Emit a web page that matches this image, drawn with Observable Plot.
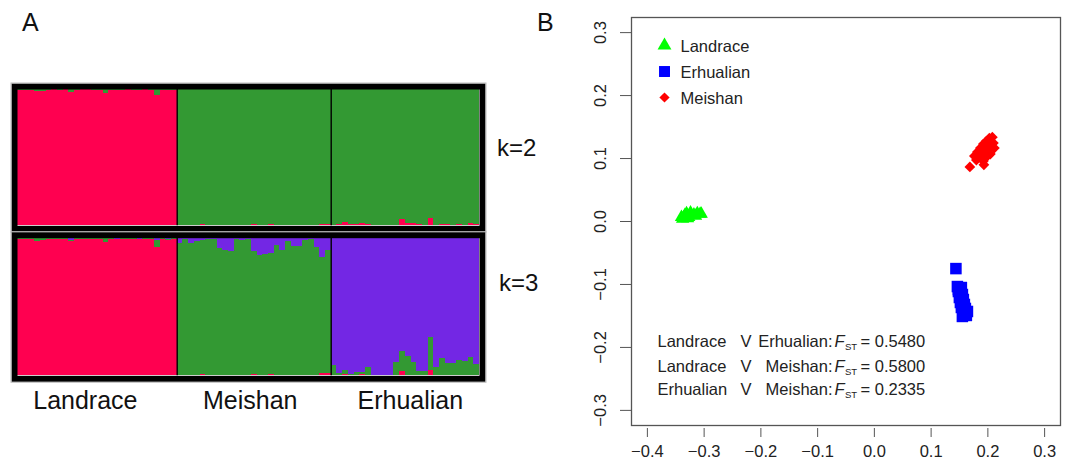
<!DOCTYPE html>
<html><head><meta charset="utf-8">
<script src="https://cdn.jsdelivr.net/npm/d3@7"></script>
<script src="https://cdn.jsdelivr.net/npm/@observablehq/plot@0.6"></script>
<style>
body{margin:0;background:#fff;}
#root{position:relative;width:1072px;height:466px;font-family:"Liberation Sans",Arial,sans-serif;overflow:hidden;background:#fff;}
.lbl{position:absolute;line-height:1;color:#111;white-space:nowrap;}
#root svg{position:absolute;}
</style></head><body><div id="root"></div>
<script>
// ---------- Panel A : admixture proportions ----------
const groups = ["Landrace", "Meishan", "Erhualian"];
const groupSizes = [28, 27, 26];
const clusterColors = ["#FF0050", "#339933", "#7327E4"]; // cluster 1 (red), 2 (green), 3 (purple)

// k = 2 (clusters: red, green)
const landraceK2Green = [0.008,0.006,0.007,0.015,0.014,0.004,0.003,0.004,0.003,0.02,0.004,0.003,0.003,0.004,0.005,0.032,0.004,0.009,0.004,0.003,0.005,0.004,0.003,0.006,0.046,0.004,0.011,0.004];
const meishanK2Red = [0.002,0.002,0.002,0.002,0.008,0.002,0.002,0.002,0.002,0.002,0.002,0.002,0.002,0.008,0.002,0.002,0.012,0.002,0.002,0.002,0.002,0.002,0.002,0.002,0.002,0.012,0.012];
const erhualianK2Red = [0.005,0.01,0.024,0.01,0.012,0.015,0.008,0.005,0.004,0.004,0.004,0.005,0.044,0.02,0.015,0.01,0.003,0.054,0.005,0.01,0.01,0.005,0.01,0.005,0.02,0.01];

// k = 3 (clusters: red, green, purple)
const landraceK3Green = [0.006,0.005,0.006,0.018,0.016,0.003,0.003,0.003,0.003,0.004,0.003,0.003,0.003,0.003,0.004,0.03,0.003,0.004,0.003,0.003,0.003,0.003,0.003,0.004,0.05,0.003,0.004,0.003];
const landraceK3Purple = [0.003,0.003,0.004,0.003,0.003,0.003,0.003,0.003,0.003,0.02,0.003,0.003,0.003,0.003,0.003,0.003,0.003,0.008,0.003,0.003,0.003,0.008,0.003,0.003,0.015,0.003,0.01,0.003];
const meishanK3Red = [0.002,0.002,0.002,0.002,0.01,0.002,0.002,0.002,0.002,0.002,0.002,0.002,0.002,0.01,0.002,0.002,0.012,0.002,0.002,0.002,0.002,0.002,0.002,0.002,0.002,0.015,0.015];
const meishanK3Purple = [0.037,0.007,0.042,0.025,0.017,0.012,0.012,0.078,0.086,0.096,0.01,0.017,0.01,0.098,0.127,0.115,0.11,0.054,0.09,0.022,0.061,0.059,0.017,0.012,0.066,0.14,0.09];
const erhualianK3Red = [0.003,0.005,0.012,0.003,0.005,0.006,0.003,0.002,0.002,0.002,0.002,0.003,0.03,0.005,0.004,0.003,0.003,0.04,0.004,0.003,0.003,0.003,0.004,0.003,0.005,0.004];
const erhualianK3Green = [0.073,0.015,0.028,0.009,0.017,0.021,0.058,0.003,0.001,0.001,0.001,0.095,0.144,0.132,0.096,0.031,0.027,0.237,0.055,0.12,0.09,0.09,0.106,0.102,0.125,0.077];

// ---------- Panel B : PCA ----------
const landraceX = [-0.340,-0.331,-0.324,-0.334,-0.318,-0.312,-0.307,-0.327,-0.315,-0.336,-0.338,-0.329,-0.305];
const landraceY = [0.007,0.013,0.014,0.010,0.011,0.013,0.012,0.007,0.009,0.006,0.004,0.005,0.012];
const erhualianX = [0.1437,0.1463,0.1533,0.1481,0.1551,0.1498,0.1568,0.1516,0.1586,0.1533,0.1604,0.1640,0.1568,0.1621,0.1551,0.1481];
const erhualianY = [-0.0748,-0.1033,-0.1049,-0.1112,-0.1160,-0.1207,-0.1239,-0.1286,-0.1318,-0.1365,-0.1381,-0.1429,-0.1460,-0.1492,-0.1508,-0.1080];
const meishanX = [0.1683,0.1762,0.1815,0.1868,0.1921,0.1974,0.2026,0.2079,0.1850,0.1921,0.1991,0.2044,0.2097,0.2114,0.1974,0.1921,0.2044,0.1797,0.1886,0.2009,0.1930];
const meishanY = [0.0866,0.1040,0.1103,0.1166,0.1229,0.1277,0.1324,0.1340,0.1024,0.1087,0.1134,0.1198,0.1245,0.1166,0.1024,0.0960,0.1071,0.0976,0.1134,0.1245,0.0900];
const xTicks = [-0.4,-0.3,-0.2,-0.1,0.0,0.1,0.2,0.3];
const yTicks = [-0.3,-0.2,-0.1,0.0,0.1,0.2,0.3];
const legendLabels = ["Landrace", "Erhualian", "Meishan"];
const legendColors = ["#00FF00", "#0000FF", "#FF0000"];
const fstPairA = ["Landrace", "Landrace", "Erhualian"];
const fstPairB = ["Erhualian:", "Meishan:", "Meishan:"];
const fstValues = [0.5480, 0.5800, 0.2335];

// ---------- helpers ----------
const FONT = '"Liberation Sans", Arial, sans-serif';
const root = document.getElementById("root");
function place(el, left, top) { el.style.left = left + "px"; el.style.top = top + "px"; root.appendChild(el); }
function label(text, left, top, size) {
  const d = document.createElement("div"); d.className = "lbl"; d.textContent = text; d.style.fontSize = size + "px";
  place(d, left, top);
}

// build stacked rows for one K
function buildRows(perGroup) {
  const rows = []; let idx = 0;
  perGroup.forEach(comps => {
    const n = comps[0].length;
    for (let j = 0; j < n; j++) {
      comps.forEach((arr, c) => rows.push({i: idx, cluster: c, v: arr[j]}));
      idx++;
    }
  });
  return rows;
}
const rem = (...arrs) => arrs[0].map((_, j) => 1 - arrs.reduce((s, a) => s + a[j], 0));

const nTot = d3.sum(groupSizes);
const cum = d3.cumsum(groupSizes);
const dividers = cum.slice(0, -1);
const groupMid = groupSizes.map((n, g) => (cum[g] - n) + n / 2);
const labelShift = [-12, -4, 5]; // small hand-placement offsets of the group names (px)

const k2Rows = buildRows([
  [rem(landraceK2Green), landraceK2Green],
  [meishanK2Red, rem(meishanK2Red)],
  [erhualianK2Red, rem(erhualianK2Red)]
]);
const k3Rows = buildRows([
  [rem(landraceK3Green, landraceK3Purple), landraceK3Green, landraceK3Purple],
  [meishanK3Red, rem(meishanK3Red, meishanK3Purple), meishanK3Purple],
  [erhualianK3Red, erhualianK3Green, rem(erhualianK3Red, erhualianK3Green)]
]);

function structurePlot(rows, height, mt, mb, withLabels) {
  const marks = [
    Plot.rectY(rows, {x1: "i", x2: d => d.i + 1, y: "v", fill: "cluster", shapeRendering: "crispEdges"}),
    Plot.ruleX(dividers, {stroke: "#000", strokeWidth: 1.4}),
    Plot.frame({stroke: "#000", strokeWidth: 6, inset: -3}),
    Plot.frame({stroke: "#bbb", strokeWidth: 1, inset: -6.5})
  ];
  if (withLabels) groups.forEach((gname, g) => {
    marks.push(Plot.text([gname], {x: () => groupMid[g], text: d => d, frameAnchor: "bottom", dx: labelShift[g], dy: 25, lineAnchor: "middle", fontSize: 25, fill: "#111"}));
  });
  return Plot.plot({
    width: 495, height, marginLeft: 17, marginRight: 16, marginTop: mt, marginBottom: mb,
    x: {domain: [0, nTot], axis: null, label: null},
    y: {domain: [0, 1], axis: null, label: null},
    color: {domain: [0, 1, 2], range: clusterColors, type: "ordinal"},
    style: {background: "transparent", overflow: "visible", fontFamily: FONT},
    marks
  });
}
place(structurePlot(k2Rows, 155, 9, 9.7, false), 0, 80);
place(structurePlot(k3Rows, 238, 9.7, 90.7, true), 0, 228);

// ---------- Panel B ----------
const fmt = d3.format(".1f");
const diamond = {draw(ctx, size) { const h = Math.sqrt(size / 2); ctx.moveTo(0, -h); ctx.lineTo(h, 0); ctx.lineTo(0, h); ctx.lineTo(-h, 0); ctx.closePath(); }};
const symbols = ["triangle", "square", diamond];
const radii = [4.9, 6.5, 4.3];
const series = [
  {x: landraceX, y: landraceY},
  {x: erhualianX, y: erhualianY},
  {x: meishanX, y: meishanY}
];
const TXT = "#222";
const marksB = [
  Plot.frame({stroke: "#555", strokeWidth: 1.3}),
  Plot.axisX({ticks: xTicks, tickSize: 9, dy: 3, tickPadding: 8, tickFormat: fmt, fontSize: 16.5, stroke: "#555", fill: TXT}),
  Plot.axisY({ticks: yTicks, tickSize: 11, tickRotate: -90, tickPadding: 15, tickFormat: fmt, fontSize: 16.5, stroke: "#555", fill: TXT})
];
series.forEach((s, k) => {
  marksB.push(Plot.dot(s.x, {x: d => d, y: (d, j) => s.y[j], symbol: symbols[k], fill: legendColors[k], r: radii[k], stroke: "none"}));
});
legendLabels.forEach((lab, k) => {
  marksB.push(Plot.dot([lab], {frameAnchor: "top-left", dx: 33, dy: 28 + 26 * k, symbol: symbols[k], fill: legendColors[k], r: radii[k] * (k === 0 ? 1.05 : 0.95)}));
  marksB.push(Plot.text([lab], {frameAnchor: "top-left", dx: 49, dy: 29 + 26 * k, text: d => d, textAnchor: "start", lineAnchor: "middle", fontSize: 16.5, fill: TXT}));
});
const rowDy = [324, 349, 372];
fstValues.forEach((v, r) => {
  const dy = rowDy[r];
  const base = {frameAnchor: "top-left", dy, lineAnchor: "middle", fontSize: 16.5, fill: TXT};
  marksB.push(Plot.text([fstPairA[r]], {...base, dx: 26, text: d => d, textAnchor: "start"}));
  marksB.push(Plot.text(["V"], {...base, dx: 109, text: d => d, textAnchor: "start"}));
  marksB.push(Plot.text([fstPairB[r]], {...base, dx: 201, text: d => d, textAnchor: "end"}));
  marksB.push(Plot.text(["F"], {...base, dx: 203, text: d => d, textAnchor: "start", fontStyle: "italic"}));
  marksB.push(Plot.text(["ST"], {...base, dx: 213.5, dy: dy + 5, text: d => d, textAnchor: "start", fontSize: 9.5}));
  marksB.push(Plot.text([v], {...base, dx: 229, text: d => "= " + d3.format(".4f")(d), textAnchor: "start"}));
});
place(Plot.plot({
  width: 512, height: 466, marginLeft: 71, marginRight: 12, marginTop: 17, marginBottom: 41,
  x: {domain: [-0.428, 0.328], label: null},
  y: {domain: [-0.324, 0.324], label: null},
  style: {background: "transparent", overflow: "visible", fontFamily: FONT},
  marks: marksB
}), 560, 0);

// ---------- panel letters & K labels ----------
label("A", 22, 10, 25);
label("B", 537, 10, 25);
label("k=2", 497, 136, 24);
label("k=3", 499, 271, 24);
</script></body></html>
